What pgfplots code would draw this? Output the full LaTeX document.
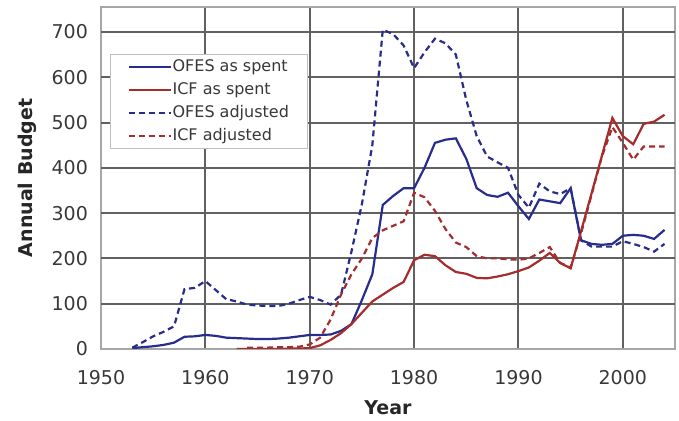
\documentclass[border=0pt]{standalone}
\usepackage{pgfplots}
\pgfplotsset{compat=1.18}
\usepackage{pgfplotstable}
\usepackage{fontspec}
\setmainfont{DejaVu Sans}
\definecolor{ofes}{RGB}{40,45,140}
\definecolor{icf}{RGB}{165,45,45}

\pgfplotstableread{
year val
1953 2
1954 4
1955 6
1956 9
1957 14
1958 27
1959 28
1960 31
1961 29
1962 25
1963 24
1964 23
1965 22
1966 22
1967 23
1968 25
1969 28
1970 31
1971 31
1972 32
1973 40
1974 55
1975 108
1976 165
1977 318
1978 338
1979 355
1980 355
1981 400
1982 455
1983 462
1984 465
1985 420
1986 355
1987 340
1988 336
1989 345
1990 315
1991 287
1992 330
1993 326
1994 322
1995 355
1996 240
1997 232
1998 230
1999 232
2000 250
2001 252
2002 250
2003 243
2004 263
}\ofesspent

\pgfplotstableread{
year val
1963 0
1964 0
1965 0
1966 0
1967 0
1968 1
1969 1
1970 2
1971 8
1972 20
1973 35
1974 55
1975 80
1976 105
1977 120
1978 135
1979 148
1980 196
1981 208
1982 205
1983 185
1984 170
1985 166
1986 157
1987 156
1988 160
1989 165
1990 172
1991 180
1992 195
1993 212
1994 190
1995 178
1996 260
1997 343
1998 427
1999 510
2000 470
2001 452
2002 497
2003 502
2004 517
}\icfspent

\pgfplotstableread{
year val
1953 3
1954 15
1955 28
1956 38
1957 50
1958 132
1959 135
1960 150
1961 130
1962 110
1963 105
1964 98
1965 96
1966 95
1967 95
1968 100
1969 108
1970 115
1971 108
1972 98
1973 120
1974 215
1975 320
1976 450
1977 705
1978 695
1979 670
1980 620
1981 655
1982 685
1983 675
1984 650
1985 550
1986 470
1987 425
1988 412
1989 400
1990 340
1991 312
1992 365
1993 348
1994 342
1995 355
1996 240
1997 226
1998 226
1999 226
2000 238
2001 232
2002 225
2003 215
2004 232
}\ofesadj

\pgfplotstableread{
year val
1964 3
1965 3
1966 3
1967 4
1968 4
1969 5
1970 10
1971 25
1972 65
1973 120
1974 165
1975 200
1976 245
1977 262
1978 272
1979 282
1980 345
1981 335
1982 305
1983 265
1984 235
1985 225
1986 205
1987 200
1988 200
1989 198
1990 197
1991 200
1992 212
1993 225
1994 190
1995 180
1996 255
1997 340
1998 425
1999 490
2000 455
2001 418
2002 447
2003 447
2004 447
}\icfadj

\begin{document}
\begin{tikzpicture}
\useasboundingbox (-50.5pt,-36pt) rectangle (289pt,174.5pt);
\begin{axis}[
  scale only axis,
  width=287pt, height=171pt,
  xmin=1950, xmax=2005, ymin=0, ymax=755,
  xtick={1950,1960,...,2000},
  ytick={0,100,...,700},
  /pgf/number format/1000 sep={},
  /pgf/number format/assume math mode=true,
  tick label style={font=\fontsize{9.5}{11}\selectfont, text=black!78},
  xticklabel style={yshift=-7pt},
  yticklabel style={xshift=-3pt},
  major tick length=0pt,
  xmajorgrids=true, ymajorgrids=true,
  grid style={draw=black!62, line width=1pt},
  axis line style={black!35, line width=0.7pt},
  xlabel={\textbf{Year}},
  ylabel={\textbf{Annual Budget}},
  label style={font=\fontsize{9.5}{11}\selectfont, text=black!85},
  xlabel style={at={(axis description cs:0.5,0)}, anchor=center, yshift=-29.5pt},
  ylabel style={at={(axis description cs:0,0.5)}, anchor=center, yshift=37pt},
  legend style={at={(rel axis cs:0.0157,0.868)}, anchor=north west,
    draw=black!25, fill=white, inner xsep=8.5pt, inner ysep=0.9pt,
    row sep=1pt, font=\fontsize{8}{9}\selectfont, text=black!78,
    cells={anchor=west}, nodes={inner xsep=0.5pt, inner ysep=1.5pt},
    yshift=-1pt},
  legend image code/.code={\draw[#1] (0pt,0pt) -- (21pt,0pt);},
  every axis plot/.append style={line width=1.1pt},
]
\pgfplotsinvokeforeach{100,200,...,700}{
  \draw[black!62, line width=1pt] (axis cs:1950,#1) -- (axis cs:2005,#1);
}
\addplot[ofes, no markers] table[x=year,y=val] {\ofesspent};
\addlegendentry{OFES as spent}
\addplot[icf, no markers] table[x=year,y=val] {\icfspent};
\addlegendentry{ICF as spent}
\addplot[ofes, no markers, dash pattern=on 3pt off 2pt] table[x=year,y=val] {\ofesadj};
\addlegendentry{OFES adjusted}
\addplot[icf, no markers, dash pattern=on 3pt off 2pt] table[x=year,y=val] {\icfadj};
\addlegendentry{ICF adjusted}
\end{axis}
\end{tikzpicture}
\end{document}
